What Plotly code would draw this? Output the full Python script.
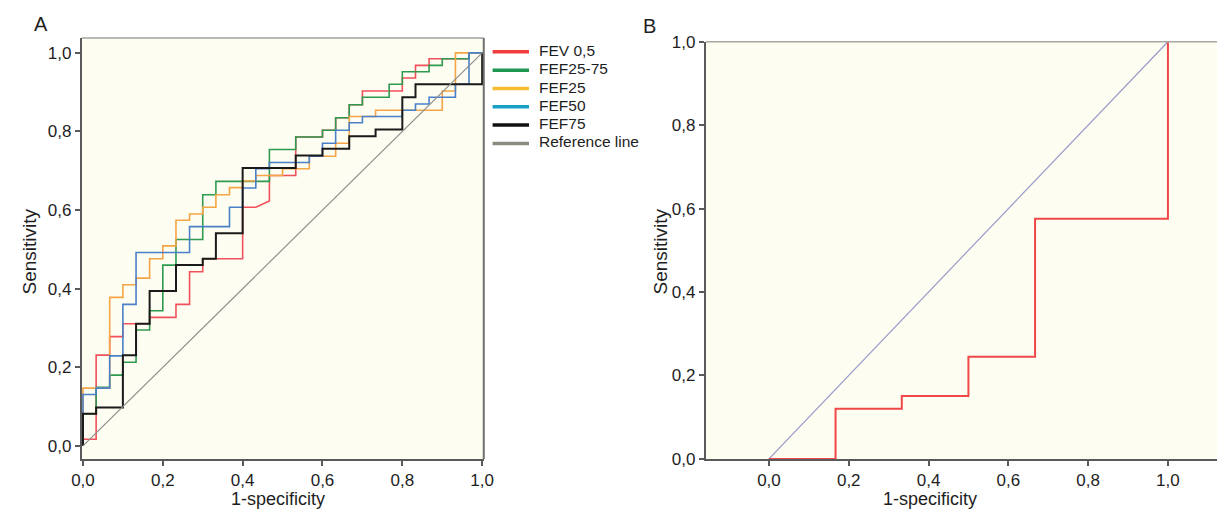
import plotly.graph_objects as go

# ---------------- Data ----------------
# Panel A: ROC curves as (1-specificity, sensitivity) vertices
fev05 = [(0,0),(0,.017),(.033,.017),(.033,.231),(.067,.231),(.067,.278),(.1,.278),(.1,.311),(.167,.311),(.167,.327),
         (.233,.327),(.233,.36),(.267,.36),(.267,.443),(.3,.443),(.3,.476),(.4,.476),(.4,.607),(.433,.607),(.467,.623),
         (.467,.688),(.533,.688),(.533,.786),(.6,.786),(.6,.803),(.633,.803),(.633,.835),(.667,.835),(.667,.868),(.7,.868),
         (.7,.903),(.8,.903),(.8,.936),(.833,.936),(.833,.968),(.867,.968),(.867,.985),(.967,.985),(.967,1),(1,1)]
fef2575 = [(0,0),(0,.082),(.033,.082),(.033,.149),(.067,.149),(.067,.18),(.1,.18),(.1,.213),(.133,.213),(.133,.295),
           (.167,.295),(.167,.344),(.2,.344),(.2,.46),(.233,.46),(.233,.525),(.3,.525),(.3,.639),(.333,.639),(.333,.673),
           (.467,.673),(.467,.754),(.533,.754),(.533,.786),(.6,.786),(.6,.803),(.633,.803),(.633,.835),(.667,.835),
           (.667,.868),(.7,.868),(.7,.887),(.767,.887),(.767,.92),(.8,.92),(.8,.952),(.867,.952),(.867,.968),(.9,.968),
           (.9,.985),(.967,.985),(.967,1),(1,1)]
fef25 = [(0,0),(0,.147),(.067,.147),(.067,.378),(.1,.378),(.1,.41),(.133,.41),(.133,.427),(.167,.427),(.167,.476),
         (.2,.476),(.2,.509),(.233,.509),(.233,.574),(.267,.574),(.267,.59),(.3,.59),(.3,.607),(.333,.607),(.333,.639),
         (.367,.639),(.367,.657),(.4,.657),(.4,.674),(.433,.674),(.433,.688),(.5,.688),(.5,.705),(.567,.705),(.567,.737),
         (.633,.737),(.633,.77),(.667,.77),(.667,.838),(.733,.838),(.733,.854),(.9,.854),(.9,.903),(.933,.903),(.933,1),(1,1)]
fef50 = [(0,0),(0,.131),(.033,.131),(.033,.147),(.067,.147),(.067,.229),(.1,.229),(.1,.36),(.133,.36),(.133,.492),
         (.267,.492),(.267,.558),(.367,.558),(.367,.607),(.4,.607),(.4,.656),(.433,.656),(.433,.705),(.467,.705),
         (.467,.721),(.567,.721),(.567,.737),(.6,.737),(.6,.77),(.633,.77),(.633,.803),(.667,.803),(.667,.822),(.7,.822),
         (.7,.838),(.8,.838),(.8,.854),(.833,.854),(.833,.87),(.867,.87),(.867,.887),(.933,.887),(.933,.92),(.967,.92),
         (.967,1),(1,1)]
fef75 = [(0,0),(0,.082),(.033,.082),(.033,.098),(.1,.098),(.1,.231),(.133,.231),(.133,.311),(.167,.311),(.167,.394),
         (.233,.394),(.233,.46),(.3,.46),(.3,.476),(.333,.476),(.333,.541),(.4,.541),(.4,.707),(.533,.707),(.533,.739),
         (.6,.739),(.6,.756),(.667,.756),(.667,.788),(.733,.788),(.733,.805),(.8,.805),(.8,.887),(.833,.887),(.833,.92),
         (1,.92),(1,1)]
reference_line = [(0,0),(1,1)]

series_names = ["FEV 0,5", "FEF25-75", "FEF25", "FEF50", "FEF75", "Reference line"]
series_data = [fev05, fef2575, fef25, fef50, fef75, reference_line]
curve_colors = ["#F0505A", "#2E9A50", "#F5A545", "#4A80C8", "#1A1A1A", "#8E8E8E"]
legend_colors = ["#F03C3C", "#1E9650", "#F5BE32", "#18A0C8", "#111111", "#8A8A80"]
curve_widths = [1.6, 1.6, 1.6, 1.6, 2.0, 1.2]

# Panel B: single ROC curve and diagonal
panel_b = [(0,0),(.167,0),(.167,.12),(.333,.12),(.333,.151),(.5,.151),(.5,.245),(.667,.245),(.667,.576),(1,.576),(1,1)]
panel_b_diag = [(0,0),(1,1)]

tick_vals = [0, 0.2, 0.4, 0.6, 0.8, 1.0]
tick_text = ["0,0", "0,2", "0,4", "0,6", "0,8", "1,0"]

# ---------------- Figure ----------------
W, H = 1227, 519
FONT = "Liberation Sans, Arial, sans-serif"
BG = "#FEFDF1"
TXT = "#1E1E1E"

def px(x):
    return x / W

def py(y):
    return 1 - y / H

fig = go.Figure()

for name, data, c, w in zip(series_names, series_data, curve_colors, curve_widths):
    fig.add_trace(go.Scatter(x=[p[0] for p in data], y=[p[1] for p in data], mode="lines",
                             name=name, line=dict(color=c, width=w),
                             showlegend=False, xaxis="x", yaxis="y", hoverinfo="skip"))

fig.add_trace(go.Scatter(x=[p[0] for p in panel_b_diag], y=[p[1] for p in panel_b_diag], mode="lines",
                         line=dict(color="#9A9ACB", width=1.2), showlegend=False, xaxis="x2", yaxis="y2"))
fig.add_trace(go.Scatter(x=[p[0] for p in panel_b], y=[p[1] for p in panel_b], mode="lines",
                         line=dict(color="#F04848", width=2), showlegend=False, xaxis="x2", yaxis="y2"))

axis_common = dict(showgrid=False, zeroline=False, showline=True, linecolor="#5A5A5A", linewidth=2,
                   ticks="outside", ticklen=5, tickwidth=1.5, tickcolor="#5A5A5A",
                   tickvals=tick_vals, ticktext=tick_text,
                   tickfont=dict(family=FONT, size=17, color=TXT))

fig.update_layout(
    width=W, height=H,
    margin=dict(l=0, r=0, t=0, b=0),
    paper_bgcolor="white",
    plot_bgcolor=BG,
    font=dict(family=FONT, color=TXT),
    xaxis=dict(domain=[px(72), px(481)], range=[-0.003, 1.004], anchor="y", **axis_common),
    yaxis=dict(domain=[py(467), py(30)], range=[-0.033, 1.038], anchor="x", **axis_common),
    xaxis2=dict(domain=[px(707), 1.0], range=[-0.158, 1.123], anchor="y2", **axis_common),
    yaxis2=dict(domain=[py(467), py(34)], range=[0, 1.0], anchor="x2", **axis_common),
    showlegend=False,
)

# frame lines (top/right of panel A, top of panel B)
fig.add_shape(type="line", xref="paper", yref="paper", x0=px(72), x1=px(481), y0=py(30), y1=py(30),
              line=dict(color="#A0A0A0", width=1.5))
fig.add_shape(type="line", xref="paper", yref="paper", x0=px(481), x1=px(481), y0=py(467), y1=py(30),
              line=dict(color="#707070", width=2))
fig.add_shape(type="line", xref="paper", yref="paper", x0=px(707), x1=1.0, y0=py(34), y1=py(34),
              line=dict(color="#A8A8A0", width=1.5))

# legend for panel A (swatches + labels)
legend_rows = [44.5, 63.5, 82.5, 101.5, 120.5, 139.5]
for name, c, ry in zip(series_names, legend_colors, legend_rows):
    fig.add_shape(type="line", xref="paper", yref="paper", x0=px(490), x1=px(527), y0=py(ry), y1=py(ry),
                  line=dict(color=c, width=3.5))
    fig.add_annotation(xref="paper", yref="paper", showarrow=False, xanchor="left", yanchor="middle",
                       text=name, x=px(535), y=py(ry - 1.5),
                       font=dict(family=FONT, color=TXT, size=15.5))

annots = [
    dict(text="A", x=px(31), y=py(16), size=20, angle=0),
    dict(text="B", x=px(650), y=py(18), size=20, angle=0),
    dict(text="1-specificity", x=px(272), y=py(509), size=18, angle=0),
    dict(text="1-specificity", x=px(935), y=py(509), size=18, angle=0),
    dict(text="Sensitivity", x=px(19), y=py(252), size=19, angle=-90),
    dict(text="Sensitivity", x=px(661), y=py(252), size=19, angle=-90),
]
for a in annots:
    fig.add_annotation(xref="paper", yref="paper", showarrow=False, xanchor="center", yanchor="middle",
                       text=a["text"], x=a["x"], y=a["y"], textangle=a["angle"],
                       font=dict(family=FONT, color=TXT, size=a["size"]))

fig.write_html("out.html", config={"displayModeBar": False},
               post_script="document.body.style.margin='0';document.body.style.padding='0';"
                           "document.documentElement.style.overflow='hidden';")
